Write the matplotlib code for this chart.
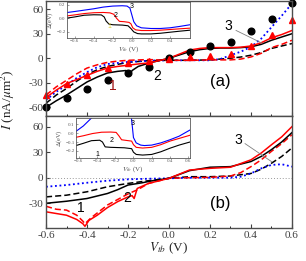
import matplotlib
matplotlib.use('Agg')
import matplotlib.pyplot as plt
import numpy as np

plt.rcParams['font.family'] = 'Liberation Serif'
plt.rcParams['mathtext.fontset'] = 'stix'

# ---- panel (a): I-V curves, V in volts, I in nA/um^2
va_black = [-0.6, -0.55, -0.5, -0.45, -0.4, -0.35, -0.3, -0.25, -0.21, -0.195, -0.18, -0.15, -0.1, -0.05, 0.0, 0.05, 0.1, 0.15, 0.2, 0.25, 0.3, 0.35, 0.4, 0.45, 0.5, 0.55, 0.6]
ia_black = [-60, -52, -45, -37, -29, -23, -18, -16, -15, -22, -15, -10, -6, -3, 0, 4, 8, 10.5, 12, 12.5, 12.5, 13, 14, 17, 22, 26, 30]
va_red = [-0.6, -0.55, -0.5, -0.45, -0.4, -0.35, -0.3, -0.25, -0.2, -0.15, -0.1, -0.05, 0.0, 0.05, 0.1, 0.15, 0.2, 0.25, 0.3, 0.35, 0.4, 0.45, 0.5, 0.55, 0.6]
ia_red = [-48, -39, -31, -26, -21, -16, -12, -10, -8.5, -7, -5.7, -3, 0, 5, 10, 12, 13, 13, 13, 13.5, 15, 19, 25, 29, 34]
va_rdash = [-0.6, -0.55, -0.5, -0.45, -0.4, -0.35, -0.3, -0.25, -0.2, -0.1, 0.0, 0.1, 0.2, 0.3, 0.35, 0.4, 0.45, 0.5, 0.55, 0.6]
ia_rdash = [-45, -35, -27, -19, -12, -8, -5, -3.5, -2.5, -1.6, -2.5, -2.5, -2, -2, -1, 1.6, 6, 13, 17, 22]
va_bdash = [-0.6, -0.55, -0.5, -0.45, -0.4, -0.35, -0.3, -0.2, -0.1, 0.0, 0.1, 0.2, 0.3, 0.35, 0.4, 0.45, 0.5, 0.55, 0.6]
ia_bdash = [-55, -45, -37, -28, -20, -14, -10, -5, -3, -2.5, -2.5, -2, 0, 1.5, 3.7, 7, 12, 15, 18]
va_blue = [-0.6, -0.55, -0.5, -0.45, -0.4, -0.35, -0.3, -0.2, -0.1, 0.0, 0.1, 0.2, 0.25, 0.3, 0.35, 0.4, 0.45, 0.5, 0.55, 0.6]
ia_blue = [-51, -41, -33, -24, -17, -11, -7, -4.5, -3, -2.5, -2.5, -2.5, -1, 3.7, 8, 14, 24, 38, 52, 67]

# measured points
v_exp = [-0.6, -0.5, -0.4, -0.3, -0.2, -0.1, 0.0, 0.1, 0.2, 0.3, 0.4, 0.5, 0.6]
i_circ = [-60, -49, -37, -26, -18, -11, 0, 7.3, 14.7, 19.6, 33, 47.7, 68]
i_tri = [-45, -31, -21, -12, -6, -3, -1, 1.6, 2.4, 5.7, 14.7, 29, 46.5]

# ---- panel (b)
vb_black = [-0.6, -0.5, -0.4, -0.3, -0.25, -0.2, -0.13, -0.08, 0.0, 0.1, 0.2, 0.3, 0.4, 0.45, 0.5, 0.55, 0.6]
ib_black = [-30, -27.6, -24.4, -18.5, -14, -8.6, -5.9, -3.5, -0.7, 8.3, 12.3, 13, 19, 25, 33, 42, 53]
vb_bdash = [-0.6, -0.5, -0.4, -0.3, -0.2, -0.1, 0.0, 0.1, 0.2, 0.3, 0.4, 0.45, 0.5, 0.55, 0.6]
ib_bdash = [-22.5, -20.5, -16.5, -10.6, -6.7, -3.5, -0.7, 1.2, 1.2, 2, 5, 10, 17, 25, 35]
vb_red = [-0.6, -0.55, -0.5, -0.45, -0.42, -0.41, -0.39, -0.35, -0.3, -0.25, -0.2, -0.18, -0.17, -0.155, -0.1, 0.0, 0.1, 0.2, 0.3, 0.4, 0.45, 0.5, 0.55, 0.6]
ib_red = [-40, -42, -44, -49, -54, -57, -50, -44, -35, -28, -22.5, -21, -24.4, -12.6, -6.7, -0.7, 9, 11, 12.3, 21, 29, 38.7, 48, 60]
vb_rdash = [-0.6, -0.55, -0.5, -0.45, -0.42, -0.41, -0.38, -0.3, -0.2, -0.15, -0.1, 0.0, 0.1, 0.2, 0.3, 0.35, 0.4, 0.45, 0.5, 0.55, 0.6]
ib_rdash = [-33.5, -37, -38, -44, -51, -54, -47, -32, -19, -13.7, -6.7, -0.7, 0, 0.4, 2, 6, 13, 21, 31, 40, 50.5]
vb_blue = [-0.6, -0.5, -0.4, -0.3, -0.2, -0.1, 0.0, 0.1, 0.2, 0.3, 0.35, 0.4, 0.45, 0.5, 0.55, 0.6]
ib_blue = [-10.6, -8.6, -5.9, -3.5, -1.9, -1.2, -0.7, 0, 0, 0, 1.2, 5, 11, 15, 15.8, 13]

# ---- inset (a): gap vs bias
ta_v_blue = [-0.68, -0.6, -0.5, -0.4, -0.3, -0.2, -0.1, -0.05, -0.02, 0.0, 0.02, 0.05, 0.1, 0.2, 0.3, 0.4, 0.5, 0.61]
ta_d_blue = [0.085, 0.10, 0.12, 0.14, 0.165, 0.18, 0.185, 0.18, 0.15, 0.05, -0.05, -0.11, -0.14, -0.15, -0.15, -0.14, -0.12, -0.095]
ta_v_red = [-0.68, -0.6, -0.5, -0.4, -0.3, -0.23, -0.19, -0.16, -0.13, -0.08, -0.03, -0.01, 0.01, 0.04, 0.1, 0.2, 0.3, 0.4, 0.5, 0.61]
ta_d_red = [0.035, 0.05, 0.07, 0.082, 0.086, 0.08, 0.06, 0.0, -0.045, -0.05, -0.06, -0.08, -0.14, -0.17, -0.18, -0.18, -0.175, -0.165, -0.155, -0.145]
ta_v_blk = [-0.68, -0.6, -0.5, -0.4, -0.32, -0.29, -0.27, -0.24, -0.2, -0.1, -0.04, -0.01, 0.02, 0.06, 0.1, 0.2, 0.3, 0.4, 0.5, 0.61]
ta_d_blk = [0.003, 0.02, 0.045, 0.052, 0.05, 0.02, -0.04, -0.085, -0.095, -0.1, -0.11, -0.15, -0.2, -0.225, -0.23, -0.23, -0.22, -0.205, -0.19, -0.175]

# ---- inset (b)
tb_v_blue = [-0.63, -0.55, -0.5, -0.45, -0.4, -0.3, -0.1, -0.03, -0.015, 0.0, 0.03, 0.08, 0.12, 0.2, 0.3, 0.4, 0.5, 0.62]
tb_d_blue = [0.02, 0.08, 0.13, 0.18, 0.22, 0.26, 0.28, 0.25, 0.1, -0.05, -0.11, -0.135, -0.14, -0.135, -0.11, -0.075, -0.035, 0.035]
tb_v_red = [-0.63, -0.55, -0.45, -0.35, -0.25, -0.19, -0.16, -0.13, -0.08, -0.02, 0.0, 0.03, 0.1, 0.2, 0.3, 0.4, 0.5, 0.62]
tb_d_red = [-0.047, -0.03, -0.005, 0.01, 0.012, 0.008, -0.03, -0.075, -0.082, -0.09, -0.13, -0.16, -0.168, -0.16, -0.13, -0.09, -0.06, -0.024]
tb_v_blk = [-0.63, -0.55, -0.46, -0.37, -0.34, -0.31, -0.25, -0.1, -0.02, 0.0, 0.03, 0.1, 0.2, 0.3, 0.4, 0.5, 0.62]
tb_d_blk = [-0.14, -0.115, -0.085, -0.08, -0.1, -0.155, -0.16, -0.165, -0.175, -0.215, -0.24, -0.247, -0.24, -0.21, -0.17, -0.135, -0.1]

W, H = 306, 261
fig = plt.figure(figsize=(W / 100, H / 100), dpi=100)

def px_axes(x0, y0, x1, y1):
    return fig.add_axes([x0 / W, 1 - y1 / H, (x1 - x0) / W, (y1 - y0) / H])

ax1 = px_axes(46, 1, 292, 115.5)
ax2 = px_axes(46, 115.5, 292, 228)

spine_col = '0.3'
for ax in (ax1, ax2):
    ax.set_xlim(-0.6, 0.6)
    ax.set_xticks([-0.6, -0.4, -0.2, 0.0, 0.2, 0.4, 0.6])
    ax.set_xticks(np.arange(-0.6, 0.61, 0.1), minor=True)
    ax.tick_params(direction='in', labelsize=8, length=3, width=0.8, colors='0.25', pad=2)
    ax.tick_params(which='minor', direction='in', length=1.5, width=0.6)
    for s in ax.spines.values():
        s.set_color(spine_col)
        s.set_linewidth(1.0)

ax1.set_ylim(-70, 70)
ax1.set_yticks([-60, -30, 0, 30, 60])
ax1.tick_params(labelbottom=False)
ax2.set_ylim(-59, 73)
ax2.set_yticks([-30, 0, 30, 60])
ax2.set_xticklabels(['-0.6', '-0.4', '-0.2', '0.0', '0.2', '0.4', '0.6'])
ax1.set_yticklabels(['-60', '-30', '0', '30', '60'])
ax2.set_yticklabels(['-30', '0', '30', '60'])

lw = 1.1
# panel (a)
ax1.plot(va_bdash, ia_bdash, color='black', ls=(0, (4, 2)), lw=lw)
ax1.plot(va_blue, ia_blue, color='blue', ls=(0, (1, 1.5)), lw=lw + 0.2)
ax1.plot(va_rdash, ia_rdash, color='red', ls=(0, (4, 2)), lw=lw)
ax1.plot(va_black, ia_black, color='black', lw=lw)
ax1.plot(va_red, ia_red, color='red', lw=lw)
ax1.plot(v_exp, i_circ, 'o', color='black', ms=4.8, clip_on=False)
ax1.plot(v_exp, i_tri, '^', color='red', ms=4.8, clip_on=False)

ax1.text(-0.275, -34, '1', fontsize=10, color='#a01010', family='Liberation Sans', ha='center', va='center')
ax1.text(-0.06, -22, '2', fontsize=10, color='black', family='Liberation Sans', ha='center', va='center')
ax1.text(0.29, 40, '3', fontsize=10, color='black', family='Liberation Sans', ha='center', va='center')
ax1.plot([0.327, 0.454], [34, 18.4], color='0.5', lw=0.6)
ax1.text(0.25, -29, '(a)', fontsize=12, color='black', family='Liberation Sans', ha='center', va='center')

# panel (b)
ax2.axhline(0, color='0.6', ls=(0, (1, 2)), lw=0.7)
ax2.plot(vb_bdash, ib_bdash, color='black', ls=(0, (4, 2)), lw=lw)
ax2.plot(vb_blue, ib_blue, color='blue', ls=(0, (1, 1.5)), lw=lw + 0.2)
ax2.plot(vb_rdash, ib_rdash, color='red', ls=(0, (4, 2)), lw=lw)
ax2.plot(vb_black, ib_black, color='black', lw=lw)
ax2.plot(vb_red, ib_red, color='red', lw=lw)

ax2.text(-0.43, -35, '1', fontsize=10, color='black', family='Liberation Sans', ha='center', va='center')
ax2.text(-0.205, -24, '2', fontsize=10, color='black', family='Liberation Sans', ha='center', va='center')
ax2.text(0.337, 44.5, '3', fontsize=10, color='black', family='Liberation Sans', ha='center', va='center')
ax2.plot([0.371, 0.502], [40, 18.6], color='0.5', lw=0.6)
ax2.text(0.25, -30, '(b)', fontsize=12, color='black', family='Liberation Sans', ha='center', va='center')

fig.text(8 / W, 1 - 100 / H, r'$I$ (nA/$\mu$m$^2$)', rotation=90, fontsize=9.5, ha='center', va='center', color='0.15')
fig.text(169 / W, 1 - 248 / H, r'$V_{tb}$ (V)', fontsize=9.5, ha='center', va='center', color='0.15')

# insets
def style_inset(ax):
    ax.tick_params(direction='in', labelsize=3.6, length=1.5, width=0.4, colors='0.35', pad=1)
    for s in ax.spines.values():
        s.set_color('0.35')
        s.set_linewidth(0.6)
    ax.set_ylabel(r'$\Delta$(eV)', fontsize=4.5, labelpad=1, color='0.3')
    ax.set_xlabel(r'$V_{tb}$ (V)', fontsize=5, labelpad=0.5, color='0.3')

ins1 = px_axes(67, 2, 190, 38)
ins1.set_xlim(-0.68, 0.61)
ins1.set_ylim(-0.29, 0.24)
ins1.set_xticks([-0.6, -0.4, -0.2, 0.0, 0.2, 0.4])
ins1.set_yticks([-0.2, 0.0, 0.2])
ins1.plot(ta_v_blk, ta_d_blk, color='black', lw=0.8)
ins1.plot(ta_v_red, ta_d_red, color='red', lw=0.8)
ins1.plot(ta_v_blue, ta_d_blue, color='blue', lw=0.8)
ins1.text(0.0, 0.17, '3', fontsize=5, family='Liberation Sans', ha='center', va='center')
ins1.text(-0.17, 0.04, '2', fontsize=5, family='Liberation Sans', ha='center', va='center')
ins1.text(-0.24, -0.126, '1', fontsize=5, color='#e0d040', family='Liberation Sans', ha='center', va='center')
style_inset(ins1)

ins2 = px_axes(76, 118, 190, 158)
ins2.set_xlim(-0.63, 0.62)
ins2.set_ylim(-0.28, 0.17)
ins2.set_xticks([-0.6, -0.4, -0.2, 0.0, 0.2, 0.4, 0.6])
ins2.set_yticks([-0.2, -0.1, 0.0, 0.1])
ins2.plot(tb_v_blk, tb_d_blk, color='black', lw=0.8)
ins2.plot(tb_v_red, tb_d_red, color='red', lw=0.8)
ins2.plot(tb_v_blue, tb_d_blue, color='blue', lw=0.8)
ins2.text(-0.01, 0.106, '3', fontsize=5, family='Liberation Sans', ha='center', va='center')
ins2.text(-0.24, -0.08, '2', fontsize=5, family='Liberation Sans', ha='center', va='center')
ins2.text(-0.4, -0.235, '1', fontsize=5, family='Liberation Sans', ha='center', va='center')
style_inset(ins2)

fig.savefig('out.png', dpi=100)
